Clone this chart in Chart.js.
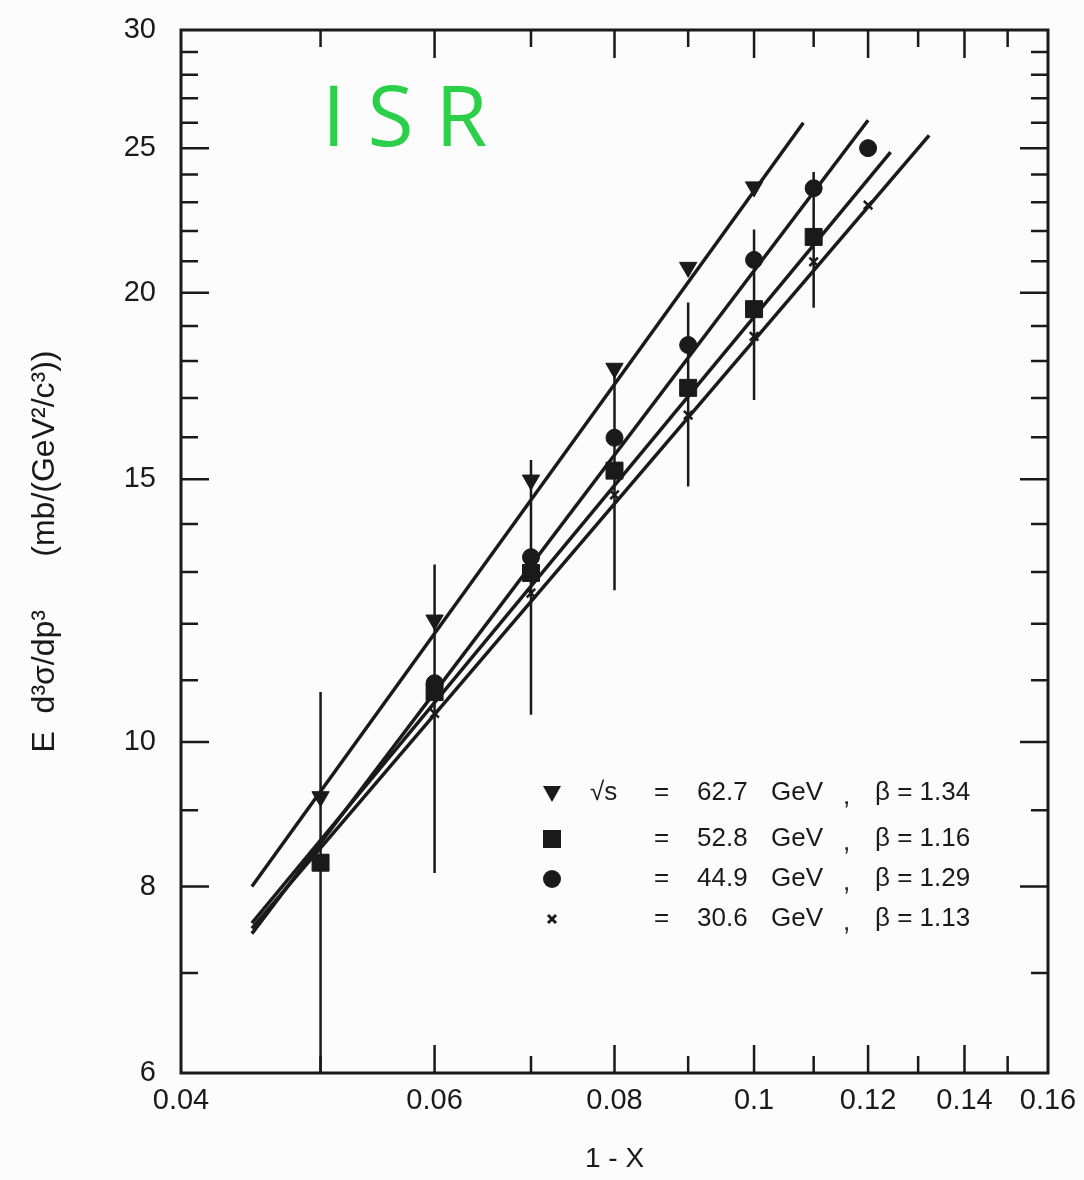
<!DOCTYPE html>
<html>
<head>
<meta charset="utf-8">
<script src="https://cdn.jsdelivr.net/npm/chart.js@4.4.1/dist/chart.umd.min.js"></script>
<style>
  html, body { margin: 0; padding: 0; background: #fcfcfc; }
  #wrap { width: 1084px; height: 1180px; position: relative; }
</style>
</head>
<body>
<div id="wrap"><canvas id="isrChart"></canvas></div>
<script>
// ── data ───────────────────────────────────────────────────
const xVals    = [0.05, 0.06, 0.07, 0.08, 0.09, 0.10, 0.11, 0.12];
const tri627   = [9.19, 12.07, 14.98, 17.8, 20.8, 23.55, null, null];
const sq528    = [8.3, 10.8, 12.98, 15.2, 17.27, 19.5, 21.8, null];
const circ449  = [null, 10.95, 13.3, 15.99, 18.45, 21.04, 23.5, 25.0];
const cross306 = [null, 10.45, 12.58, 14.64, 16.56, 18.7, 20.98, 22.9];

// error bars (drawn on the 52.8 GeV points)
const errLow  = [5.8, 8.17, 10.43, 12.64, 14.83, 16.95, 19.54, null];
const errHigh = [10.8, 13.15, 15.45, 17.76, 19.7, 22.05, 24.1, null];

// fitted power-law lines, two end points each
const fitTriX   = [0.0448, 0.1082], fitTriY   = [8.0, 26.0];
const fitSqX    = [0.0448, 0.1244], fitSqY    = [7.56, 24.85];
const fitCircX  = [0.0448, 0.120],  fitCircY  = [7.44, 26.1];
const fitCrossX = [0.0448, 0.1323], fitCrossY = [7.5, 25.5];

// axes
const xTickLabels = [0.04, 0.06, 0.08, 0.1, 0.12, 0.14, 0.16];
const xMinorTicks = [0.05, 0.07, 0.09, 0.11, 0.13, 0.15];
const yTickLabels = [6, 8, 10, 15, 20, 25, 30];
const yMinorTicks = [7, 9, 11, 12, 13, 14, 16, 17, 18, 19, 21, 22, 23, 24, 26, 27, 28, 29];

// legend
const legendEnergy = ["62.7", "52.8", "44.9", "30.6"];
const legendBeta   = ["1.34", "1.16", "1.29", "1.13"];
const legendStyle  = ["triDown", "rect", "circle", "cross"];

const INK  = "#1a1a1a";
const FONT = "'Liberation Sans', Arial, sans-serif";

function pts(xs, ys) {
  const out = [];
  xs.forEach(function (x, i) { if (ys[i] != null) out.push({ x: x, y: ys[i] }); });
  return out;
}

function errPts() {
  const out = [];
  xVals.forEach(function (x, i) {
    if (errLow[i] == null) return;
    out.push({ x: x, y: errLow[i] }, { x: x, y: errHigh[i] }, { x: x, y: null });
  });
  return out;
}

function fitSet(xs, ys) {
  return {
    type: "line", data: pts(xs, ys), borderColor: INK, borderWidth: 3.5,
    pointRadius: 0, fill: false, tension: 0, order: 2
  };
}

function markSet(ys, style, r, rot, bw) {
  return {
    type: "scatter", data: pts(xVals, ys), showLine: false,
    pointStyle: style, pointRadius: r, pointRotation: rot || 0,
    backgroundColor: INK, borderColor: INK, borderWidth: bw || 1, order: 1
  };
}

// ── frame with inward ticks on all four sides ──────────────
const frameTicks = {
  id: "frameTicks",
  beforeDatasetsDraw(chart) {
    const a = chart.chartArea, ctx = chart.ctx;
    const sx = chart.scales.x, sy = chart.scales.y;
    ctx.save();
    ctx.strokeStyle = INK;
    ctx.lineWidth = 3;
    ctx.strokeRect(a.left, a.top, a.right - a.left, a.bottom - a.top);
    ctx.lineWidth = 2.5;
    function xt(v, len) {
      const p = sx.getPixelForValue(v);
      ctx.beginPath();
      ctx.moveTo(p, a.bottom); ctx.lineTo(p, a.bottom - len);
      ctx.moveTo(p, a.top);    ctx.lineTo(p, a.top + len);
      ctx.stroke();
    }
    function yt(v, len) {
      const p = sy.getPixelForValue(v);
      ctx.beginPath();
      ctx.moveTo(a.left, p);  ctx.lineTo(a.left + len, p);
      ctx.moveTo(a.right, p); ctx.lineTo(a.right - len, p);
      ctx.stroke();
    }
    xTickLabels.slice(1, -1).forEach(function (v) { xt(v, 28); });
    xMinorTicks.forEach(function (v) { xt(v, 17); });
    yTickLabels.slice(1, -1).forEach(function (v) { yt(v, 28); });
    yMinorTicks.forEach(function (v) { yt(v, 17); });
    ctx.restore();
  }
};

// ── "ISR" note and the legend box ──────────────────────────
function drawMark(ctx, style, x, y) {
  ctx.beginPath();
  if (style === "triDown") {
    ctx.moveTo(x - 9, y - 7); ctx.lineTo(x + 9, y - 7); ctx.lineTo(x, y + 9);
    ctx.closePath(); ctx.fill();
  } else if (style === "rect") {
    ctx.fillRect(x - 9, y - 9, 18, 18);
  } else if (style === "circle") {
    ctx.arc(x, y, 9, 0, Math.PI * 2); ctx.fill();
  } else {
    ctx.lineWidth = 3;
    ctx.moveTo(x - 4, y - 4); ctx.lineTo(x + 4, y + 4);
    ctx.moveTo(x + 4, y - 4); ctx.lineTo(x - 4, y + 4);
    ctx.stroke();
  }
}

const notes = {
  id: "notes",
  afterDraw(chart) {
    const ctx = chart.ctx;
    ctx.save();
    // handwritten label
    ctx.fillStyle = "#2ccf4a";
    ctx.font = "84px 'Open Sans', sans-serif";
    ctx.textBaseline = "alphabetic";
    ctx.letterSpacing = "22px";
    ctx.fillText("ISR", 322, 146);
    ctx.letterSpacing = "0px";

    // legend
    ctx.fillStyle = INK;
    ctx.strokeStyle = INK;
    ctx.font = "26px " + FONT;
    ctx.textBaseline = "middle";
    const rows = [793, 839, 879, 919];
    rows.forEach(function (ry, i) {
      drawMark(ctx, legendStyle[i], 552, ry);
      if (i === 0) ctx.fillText("\u221As", 590, ry);
      ctx.fillText("=", 654, ry);
      ctx.fillText(legendEnergy[i], 697, ry);
      ctx.fillText("GeV", 771, ry);
      ctx.fillText(",", 843, ry + 4);
      ctx.fillText("\u03B2 = " + legendBeta[i], 875, ry);
    });
    ctx.restore();
  }
};

new Chart(document.getElementById("isrChart"), {
  type: "scatter",
  data: {
    datasets: [
      {
        type: "line", data: errPts(), borderColor: INK, borderWidth: 2.5,
        pointRadius: 0, spanGaps: false, tension: 0, order: 3
      },
      fitSet(fitTriX, fitTriY),
      fitSet(fitSqX, fitSqY),
      fitSet(fitCircX, fitCircY),
      fitSet(fitCrossX, fitCrossY),
      markSet(tri627, "triangle", 10, 180),
      markSet(sq528, "rect", 12),
      markSet(circ449, "circle", 8.5),
      markSet(cross306, "crossRot", 6, 0, 2.5)
    ]
  },
  options: {
    responsive: true,
    maintainAspectRatio: false,
    animation: false,
    layout: { padding: { top: 30, right: 36, left: 0, bottom: 0 } },
    plugins: { legend: { display: false }, tooltip: { enabled: false } },
    scales: {
      x: {
        type: "logarithmic", min: 0.04, max: 0.16,
        afterBuildTicks: function (s) { s.ticks = xTickLabels.map(function (v) { return { value: v }; }); },
        afterFit: function (s) { s.height = 107; s.paddingLeft = 0; s.paddingRight = 0; },
        grid: { display: false, drawTicks: false },
        border: { display: false },
        ticks: {
          autoSkip: false, maxRotation: 0, padding: 11, color: INK,
          font: { family: FONT, size: 29 },
          callback: function (v) { return String(v); }
        },
        title: {
          display: true, text: "1 - X", color: INK, padding: { top: 30 },
          font: { family: FONT, size: 28 }
        }
      },
      y: {
        type: "logarithmic", min: 6, max: 30,
        afterBuildTicks: function (s) { s.ticks = yTickLabels.map(function (v) { return { value: v }; }); },
        afterFit: function (s) { s.width = 181; s.paddingTop = 0; s.paddingBottom = 0; },
        grid: { display: false, drawTicks: false },
        border: { display: false },
        ticks: {
          autoSkip: false, padding: 25, color: INK,
          font: { family: FONT, size: 29 },
          callback: function (v) { return String(v); }
        },
        title: {
          display: true, text: "E  d\u00B3\u03C3/dp\u00B3      (mb/(GeV\u00B2/c\u00B3))",
          color: INK, padding: { top: 26, bottom: 0 },
          font: { family: FONT, size: 32 }
        }
      }
    }
  },
  plugins: [frameTicks, notes]
});
</script>
</body>
</html>
